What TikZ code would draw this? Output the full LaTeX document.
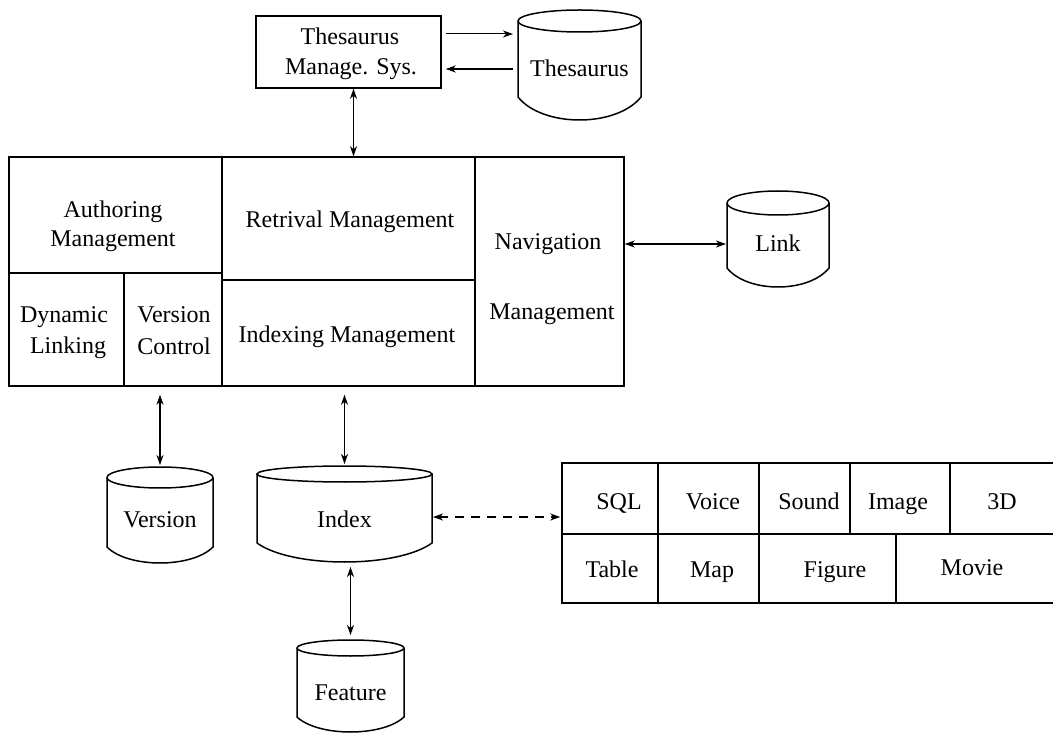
\documentclass[tikz,border=0pt]{standalone}
\usepackage{fontspec}
\setmainfont{Liberation Serif}
\usetikzlibrary{arrows.meta}

\tikzset{
  every node/.style={font=\fontsize{24}{29}\selectfont},
  cell/.style={draw, line width=1.5pt, inner sep=0pt},
  txt/.style={anchor=base, inner sep=0pt},
  drumline/.style={line width=1.5pt},
  tip/.tip={Stealth[length=10pt,width=7pt,inset=3pt]},
  fwd/.style={line width=1.3pt, -tip},
  both/.style={line width=1.3pt, tip-tip},
}

% database drum: name, left, right, top, rim front, side bottom, base, text baseline, text
\newcommand{\dbdrum}[9]{%
  \pgfmathsetmacro{\dcx}{(#2+#3)/2}%
  \pgfmathsetmacro{\drx}{(#3-#2)/2}%
  \pgfmathsetmacro{\dey}{(#4+#5)/2}%
  \pgfmathsetmacro{\dry}{(#5-#4)/2}%
  \pgfmathsetmacro{\dca}{#2+(#3-#2)*0.2}%
  \pgfmathsetmacro{\dcb}{#3-(#3-#2)*0.2}%
  \pgfmathsetmacro{\dcy}{#6+(#7-#6)*4/3}%
  \pgfmathsetmacro{\dmy}{(#4+#7)/2}%
  \node[inner sep=0pt, outer sep=0pt, minimum width={(#3-#2)*1pt}, minimum height={(#7-#4)*1pt}] (#1) at (\dcx,\dmy) {};
  \node[txt] (#1-label) at (\dcx,#8) {#9};
  \draw[drumline] (\dcx,\dey) ellipse [x radius=\drx pt, y radius=\dry pt];
  \draw[drumline] (#2,\dey) -- (#2,#6) .. controls (\dca,\dcy) and (\dcb,\dcy) .. (#3,#6) -- (#3,\dey);
}

\begin{document}
\begin{tikzpicture}[x=1pt, y=-1pt]
\useasboundingbox (0,0) rectangle (1053,735);

% thesaurus manager and its store
\node[cell, minimum width=185pt, minimum height=72pt] (tms) at (348.5,52) {};
\node[txt] (tms-l1) at (350,45) {Thesaurus};
\node[txt] (tms-l2) at (351,75) {Manage. Sys.};
\dbdrum{thes}{518}{641}{10}{32}{97}{120}{77}{Thesaurus}

% main management block
\node[cell, minimum width=213pt, minimum height=116pt] (auth) at (115.5,215) {};
\node[cell, minimum width=115pt, minimum height=113pt] (dyn) at (66.5,329.5) {};
\node[cell, minimum width=98pt, minimum height=113pt] (vc) at (173,329.5) {};
\node[cell, minimum width=253pt, minimum height=123pt] (retr) at (348.5,218.5) {};
\node[cell, minimum width=253pt, minimum height=106pt] (indx) at (348.5,333) {};
\node[cell, minimum width=149pt, minimum height=229pt] (nav) at (549.5,271.5) {};

\node[txt] (auth-l1) at (113,218) {Authoring};
\node[txt] (auth-l2) at (113,247) {Management};
\node[txt] (dyn-l1) at (64,323) {Dynamic};
\node[txt] (dyn-l2) at (68,354) {Linking};
\node[txt] (vc-l1) at (174,323) {Version};
\node[txt] (vc-l2) at (174,355) {Control};
\node[txt] (retr-l1) at (350,228) {Retrival Management};
\node[txt] (indx-l1) at (347,343) {Indexing Management};
\node[txt] (nav-l1) at (548,250) {Navigation};
\node[txt] (nav-l2) at (552,320) {Management};

% stores
\dbdrum{link}{727}{829}{191}{215}{268}{287}{252}{Link}
\dbdrum{ver}{107}{213}{467}{488}{547}{563}{527}{Version}
\dbdrum{idx}{257}{432}{466}{482}{543}{562}{527}{Index}
\dbdrum{feat}{297}{404}{640}{656}{717}{732}{700}{Feature}

% media types
\node[cell, minimum width=96pt,  minimum height=71pt] (sql)    at (610,498.5)   {};
\node[cell, minimum width=101pt, minimum height=71pt] (voice)  at (708.5,498.5) {};
\node[cell, minimum width=91pt,  minimum height=71pt] (sound)  at (804.5,498.5) {};
\node[cell, minimum width=100pt, minimum height=71pt] (image)  at (900,498.5)   {};
\node[cell, minimum width=106pt, minimum height=71pt] (three)  at (1003,498.5)  {};
\node[cell, minimum width=96pt,  minimum height=69pt] (table)  at (610,568.5)   {};
\node[cell, minimum width=101pt, minimum height=69pt] (map)    at (708.5,568.5) {};
\node[cell, minimum width=137pt, minimum height=69pt] (figure) at (827.5,568.5) {};
\node[cell, minimum width=160pt, minimum height=69pt] (movie)  at (976,568.5)   {};

\node[txt] (sql-l)    at (619,509)  {SQL};
\node[txt] (voice-l)  at (713,509)  {Voice};
\node[txt] (sound-l)  at (809,509)  {Sound};
\node[txt] (image-l)  at (898,509)  {Image};
\node[txt] (three-l)  at (1002,509) {3D};
\node[txt] (table-l)  at (612,577)  {Table};
\node[txt] (map-l)    at (712,577)  {Map};
\node[txt] (figure-l) at (835,577)  {Figure};
\node[txt] (movie-l)  at (972,575)  {Movie};

% connector ports
\coordinate (linkport) at ([yshift=-5pt]link.west);
\coordinate (idxport) at ([yshift=-3pt]idx.east);

% connectors
\draw[fwd, line width=1pt, shorten <=4pt, shorten >=5pt] ([yshift=18pt]tms.east) -- ([yshift=18pt]tms.east -| thes.west);
\draw[fwd, shorten <=5pt, shorten >=4pt] ([yshift=-17pt]tms.east -| thes.west) -- ([yshift=-17pt]tms.east);
\draw[both] ([xshift=5pt]tms.south) -- ([xshift=5pt]tms.south |- retr.north);
\draw[both, shorten >=1pt] (nav.east |- linkport) -- (linkport);
\draw[both, shorten <=8pt, shorten >=2pt] (ver.north |- vc.south) -- (ver.north);
\draw[both, shorten <=8pt, shorten >=2pt] (idx.north |- indx.south) -- (idx.north);
\draw[both, shorten <=5pt, shorten >=5pt] (feat.north |- idx.south) -- (feat.north);
\draw[both, dash pattern=on 9pt off 7pt, shorten <=1pt, shorten >=1pt] (idxport) -- (idxport -| sql.west);
\end{tikzpicture}
\end{document}
